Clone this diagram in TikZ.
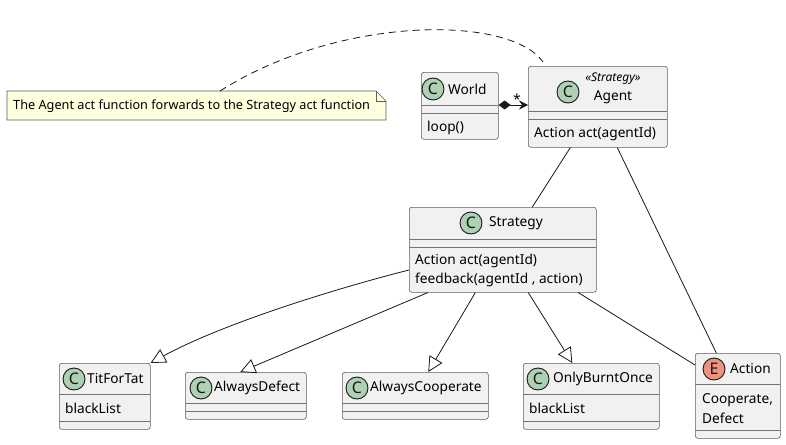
\documentclass[tikz,border=0pt]{standalone}
\usepackage{fontspec}
\setmainfont{Noto Sans}
\usetikzlibrary{arrows.meta,calc}
\definecolor{boxfill}{HTML}{F1F1F1}
\definecolor{boxline}{HTML}{181818}
\definecolor{cgreen}{HTML}{ADD1B2}
\definecolor{ered}{HTML}{EB937F}
\definecolor{notefill}{HTML}{FEFFDD}
\tikzset{
  cls/.style={draw=boxline!70, fill=boxfill, rounded corners=2.5pt, line width=0.6pt, inner sep=0pt, anchor=north west},
  sep/.style={draw=boxline!60, line width=0.5pt},
  badge/.style={circle, draw=boxline, line width=0.9pt, minimum size=22pt, inner sep=0pt, font=\fontsize{16}{16}\selectfont\bfseries, text=boxline},
  cbadge/.style={badge, fill=cgreen},
  ebadge/.style={badge, fill=ered},
  txt/.style={inner sep=0pt, anchor=west, font=\fontsize{13.7}{16}\selectfont, text=black},
  ctxt/.style={txt, anchor=center},
  conn/.style={draw=boxline, line width=0.8pt},
  gen/.style={conn, -{Triangle[open, length=15pt, width=15pt, line width=0.8pt]}},
}
\begin{document}
\begin{tikzpicture}[x=1pt, y=-1pt]
\useasboundingbox (0,0) rectangle (786,444);
\fill[white] (0,0) rectangle (786,444);

% Note
\draw[boxline!70, fill=notefill, line width=0.6pt] (7,91) -- (376,91) -- (386,101) -- (386,120) -- (7,120) -- cycle;
\draw[boxline!70, line width=0.6pt] (376,91) -- (376,101) -- (386,101);
\node[txt, font=\fontsize{12.7}{15}\selectfont] (notetext) at (13,106) {The Agent act function forwards to the Strategy act function};
\coordinate (notetop) at (220,91);

% World
\node[cls, minimum width=77pt, minimum height=67pt] (world) at (421,72) {};
\draw[sep] (421,105) -- (498,105);
\draw[sep] (421,113) -- (498,113);
\node[cbadge] (worldc) at (433,89) {C};
\node[txt] (worldt) at (448,89) {World};
\node[txt] (worldm) at (427,128) {loop()};

% Agent
\node[cls, minimum width=139pt, minimum height=81pt] (agent) at (528,66) {};
\draw[sep] (528,111) -- (667,111);
\draw[sep] (528,119) -- (667,119);
\node[cbadge] (agentc) at (568,92) {C};
\node[ctxt, font=\fontsize{12}{12}\selectfont\itshape] (agents) at (613,79) {«Strategy»};
\node[ctxt] (agentt) at (613,97) {Agent};
\node[txt] (agentm) at (534,134) {Action act(agentId)};

% Strategy
\node[cls, minimum width=187pt, minimum height=85pt] (strategy) at (409,207) {};
\draw[sep] (409,239) -- (596,239);
\draw[sep] (409,247) -- (596,247);
\node[cbadge] (strategyc) at (471,223) {C};
\node[txt] (strategyt) at (489,223) {Strategy};
\node[txt] (strategym1) at (415,261) {Action act(agentId)};
\node[txt] (strategym2) at (415,280) {feedback(agentId , action)};

% TitForTat
\node[cls, minimum width=91pt, minimum height=66pt] (tft) at (59,363) {};
\draw[sep] (59,394) -- (150,394);
\draw[sep] (59,421) -- (150,421);
\node[cbadge] (tftc) at (74,379) {C};
\node[txt] (tftt) at (87,379) {TitForTat};
\node[txt] (tftm) at (65,408) {blackList};

% AlwaysDefect
\node[cls, minimum width=121pt, minimum height=47pt] (ad) at (185,372) {};
\draw[sep] (185,403) -- (306,403);
\draw[sep] (185,411) -- (306,411);
\node[cbadge] (adc) at (201,388) {C};
\node[txt] (adt) at (214,388) {AlwaysDefect};

% AlwaysCooperate
\node[cls, minimum width=146pt, minimum height=47pt] (ac) at (342,372) {};
\draw[sep] (342,403) -- (488,403);
\draw[sep] (342,411) -- (488,411);
\node[cbadge] (acc) at (357,388) {C};
\node[txt] (act) at (370,388) {AlwaysCooperate};

% OnlyBurntOnce
\node[cls, minimum width=136pt, minimum height=66pt] (obo) at (523,363) {};
\draw[sep] (523,394) -- (659,394);
\draw[sep] (523,421) -- (659,421);
\node[cbadge] (oboc) at (538,379) {C};
\node[txt] (obot) at (553,379) {OnlyBurntOnce};
\node[txt] (obom) at (529,408) {blackList};

% Action enum
\node[cls, minimum width=85pt, minimum height=85pt] (action) at (695,353) {};
\draw[sep] (695,384) -- (780,384);
\draw[sep] (695,430) -- (780,430);
\node[ebadge] (actionc) at (714,369) {E};
\node[txt] (actiont) at (730,369) {Action};
\node[txt] (actionm1) at (702,400) {Cooperate,};
\node[txt] (actionm2) at (702,418) {Defect};

% Connectors
\draw[conn, dash pattern=on 7pt off 5pt] (notetop) .. controls (340,15) and (510,15) .. ([xshift=15pt, yshift=4pt]agent.north west);

\draw[conn, {Diamond[length=12pt, width=9pt]}-{Stealth[length=9pt, width=9pt, inset=3pt]}] ([yshift=-33pt]world.north east) -- ([yshift=-39pt]agent.north west);
\node[inner sep=0pt, font=\fontsize{14}{14}\selectfont] (star) at (517,99) {*};

\draw[conn] ([xshift=-27.5pt]agent.south) -- ([xshift=29.5pt]strategy.north);
\draw[conn] ([xshift=19.5pt]agent.south) -- ([xshift=-21.5pt]action.north);
\draw[conn] ([xshift=75.5pt]strategy.south) -- ([yshift=-12pt]action.north west);

\draw[gen] ([yshift=-63pt]strategy.north west) .. controls (330,290) and (220,325) .. (tft.north east);
\draw[gen] ([xshift=-75pt]strategy.south) -- ([xshift=-5.5pt]ad.north);
\draw[gen] ([xshift=-27.5pt]strategy.south) -- ([xshift=13pt]ac.north);
\draw[gen] ([xshift=25.5pt]strategy.south) -- ([xshift=-19pt]obo.north);
\end{tikzpicture}
\end{document}
